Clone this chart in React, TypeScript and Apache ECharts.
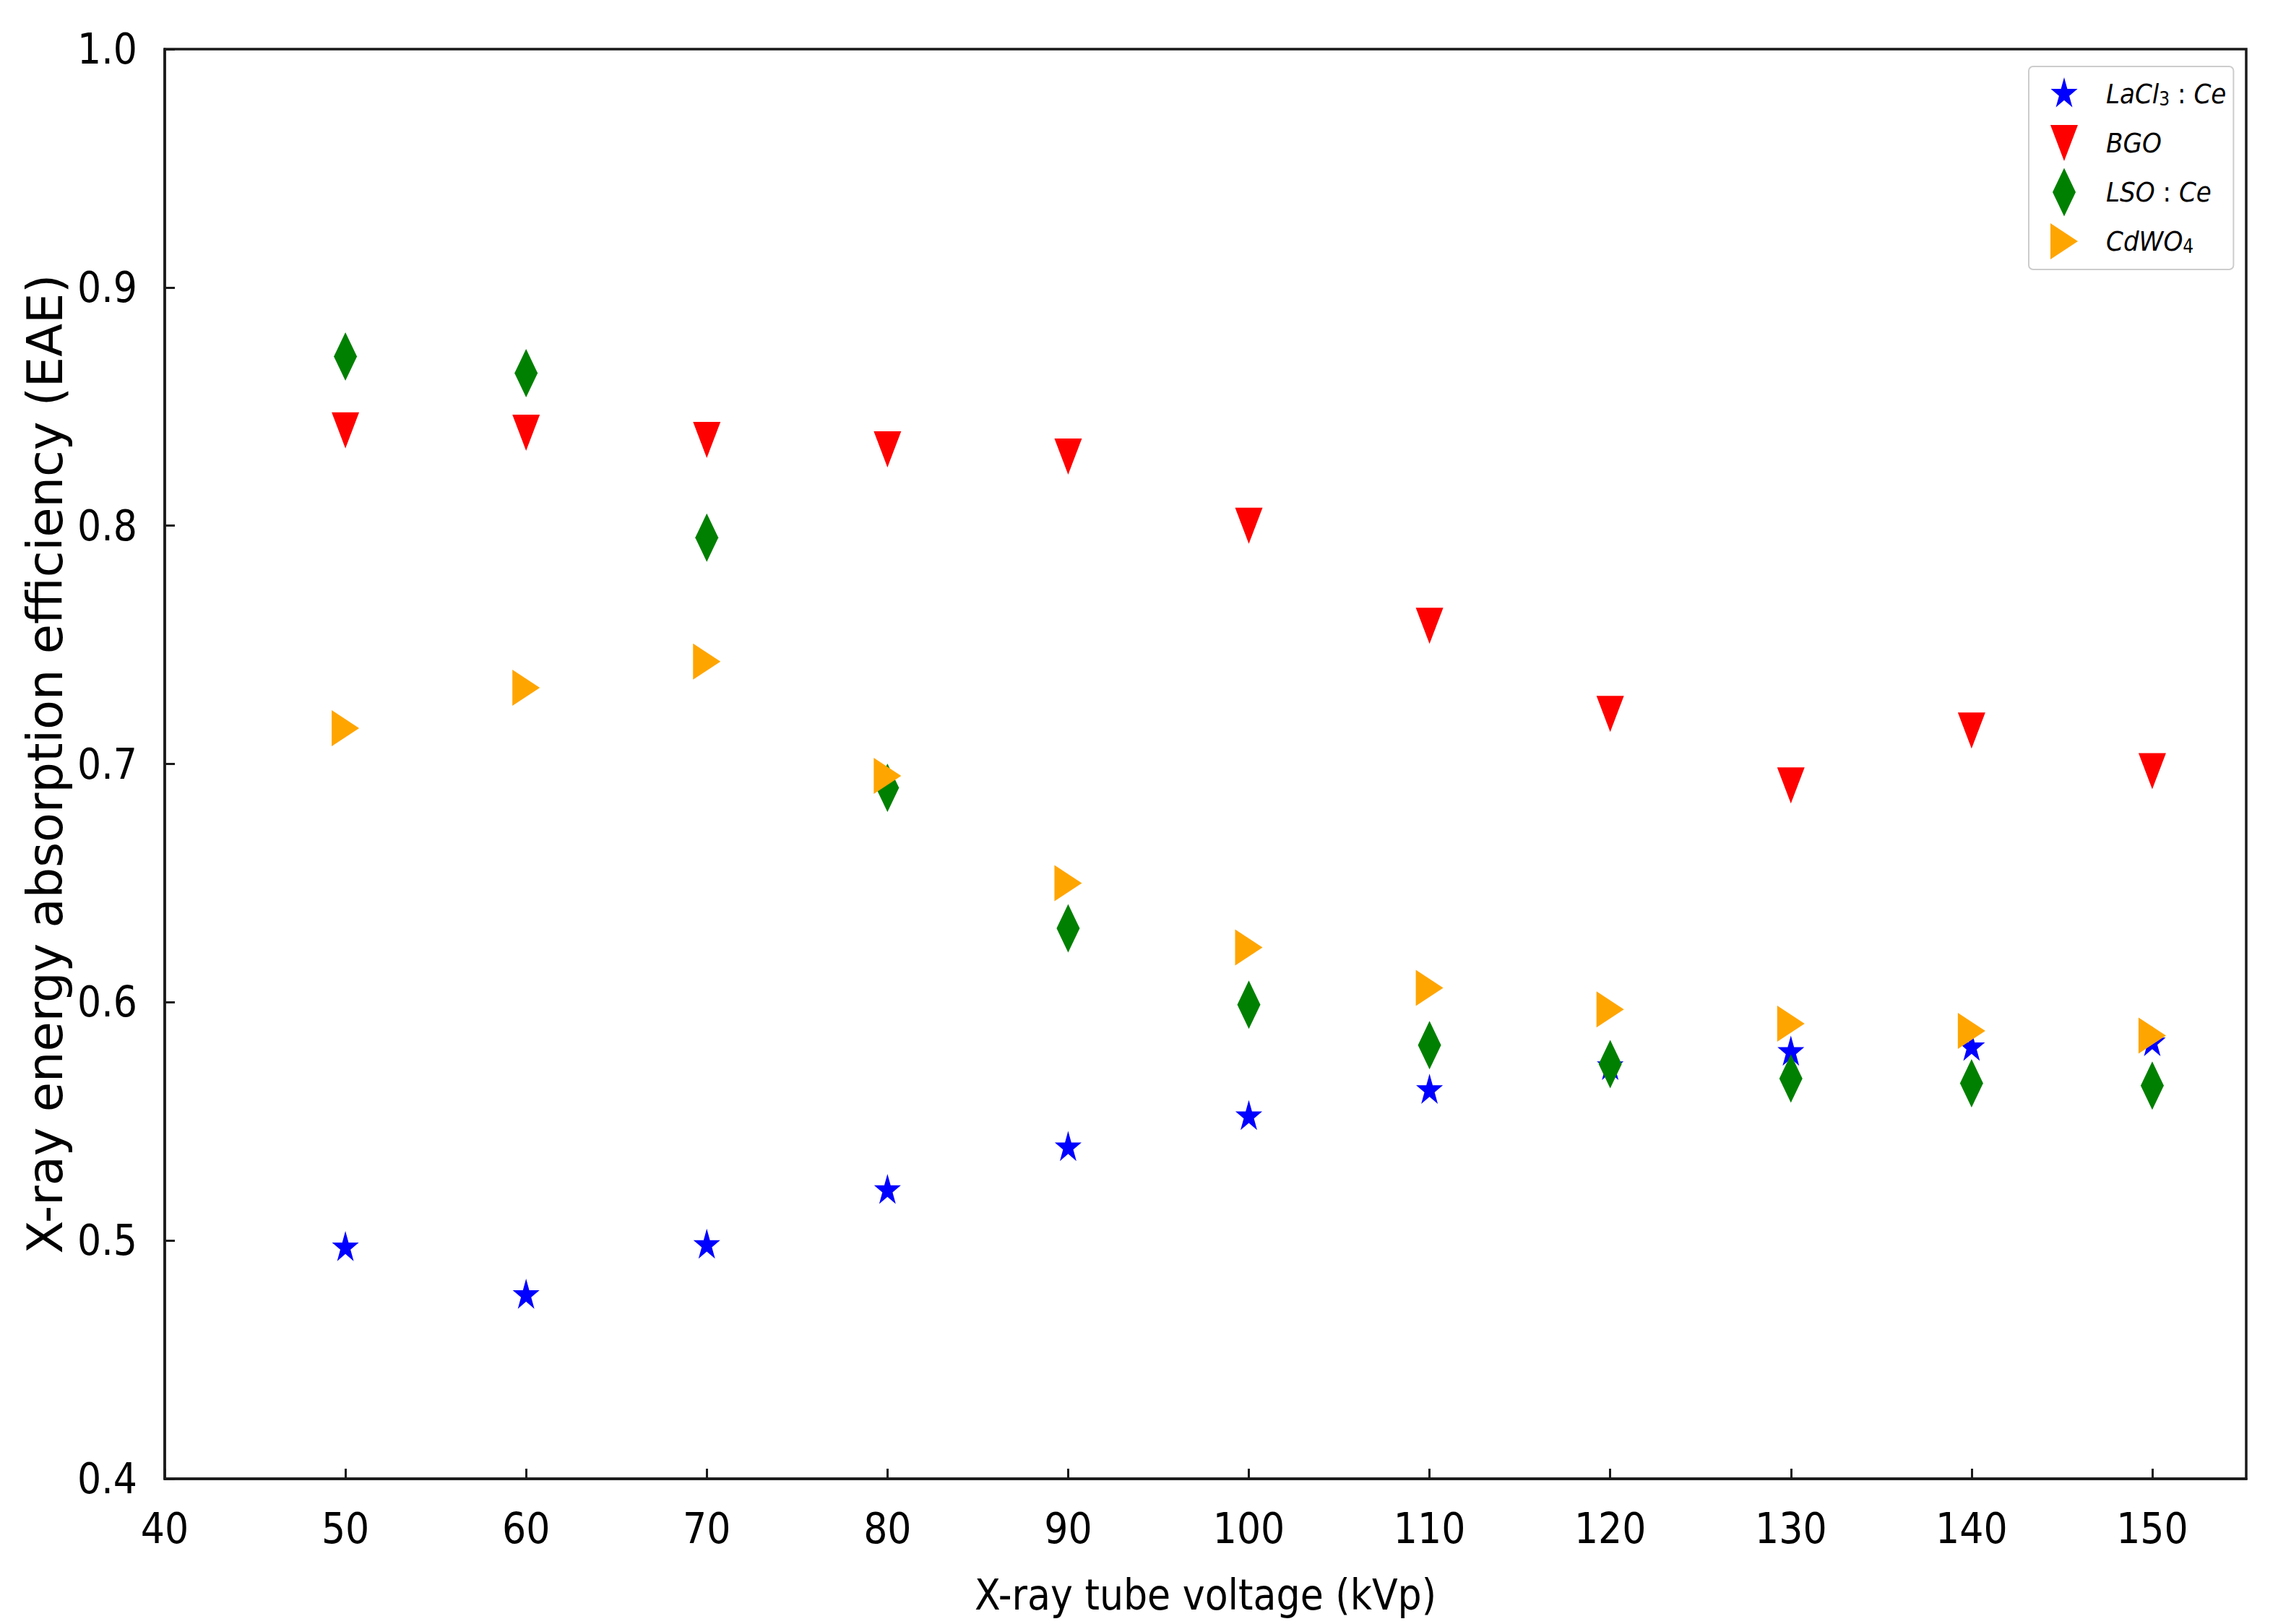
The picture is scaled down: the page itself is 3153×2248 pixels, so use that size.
import React, { useEffect, useRef } from "react";
import * as echarts from "echarts";

// ---- data ----
const voltages = [50, 60, 70, 80, 90, 100, 110, 120, 130, 140, 150];
const lacl3Ce = [0.497, 0.477, 0.498, 0.521, 0.539, 0.552, 0.563, 0.573, 0.579, 0.581, 0.583];
const bgo = [0.840, 0.839, 0.836, 0.832, 0.829, 0.800, 0.758, 0.721, 0.691, 0.714, 0.697];
const lsoCe = [0.871, 0.864, 0.795, 0.690, 0.631, 0.599, 0.582, 0.574, 0.568, 0.566, 0.565];
const cdwo4 = [0.715, 0.732, 0.743, 0.695, 0.650, 0.623, 0.606, 0.597, 0.591, 0.588, 0.586];
const seriesNames = ["LaCl3:Ce", "BGO", "LSO:Ce", "CdWO4"];
const yTicks = [0.4, 0.5, 0.6, 0.7, 0.8, 0.9, 1.0];

// ---- symbols drawn inside a common 40 x 68 frame ----
const FRAME = "M0 0 M40 68 ";
function starPath(): string {
  const cx = 20, cy = 34, sx = 19.5, sy = 23;
  const pts: string[] = [];
  for (let k = 0; k < 10; k++) {
    const a = (k * 36 * Math.PI) / 180;
    const r = k % 2 === 0 ? 1 : 0.382;
    pts.push(`${(cx + Math.sin(a) * r * sx).toFixed(2)} ${(cy - Math.cos(a) * r * sy).toFixed(2)}`);
  }
  return "path://" + FRAME + "M" + pts.join(" L") + " Z";
}
const SYM_STAR = starPath();
const SYM_DOWN = "path://" + FRAME + "M1 9 L39 9 L20 59 Z";
const SYM_DIAMOND = "path://" + FRAME + "M20 0.5 L36 34 L20 67.5 L4 34 Z";
const SYM_RIGHT = "path://" + FRAME + "M1 9 L39 34 L1 59 Z";

const FONT = "'DejaVu Sans Condensed', 'DejaVu Sans', sans-serif";
const AX = "#1a1a1a";

function pairs(ys: number[]) {
  return voltages.map((x, i) => [x, ys[i]]);
}

export default function App() {
  const ref = useRef<HTMLDivElement>(null);
  useEffect(() => {
    if (!ref.current) return;
    const chart = echarts.init(ref.current, null, { renderer: "svg" });
    const mk = (name: string, data: number[], symbol: string, color: string) => ({
      name,
      type: "scatter",
      data: pairs(data),
      symbol,
      symbolSize: [40, 68],
      itemStyle: { color, opacity: 1 },
      emphasis: { disabled: true },
    });
    const legendLabel: Record<string, string> = {
      "LaCl3:Ce": "{pad|}{i|LaCl}{s|3}{u| : }{i|Ce}",
      BGO: "{pad|}{i|BGO}",
      "LSO:Ce": "{pad|}{i|LSO}{u| : }{i|Ce}",
      CdWO4: "{pad|}{i|CdWO}{s|4}",
    };
    chart.setOption({
      animation: false,
      backgroundColor: "#ffffff",
      grid: {
        show: true,
        left: 228,
        top: 68,
        right: 44,
        bottom: 201,
        borderColor: AX,
        borderWidth: 3.5,
        backgroundColor: "#ffffff",
      },
      legend: {
        show: true,
        data: seriesNames,
        orient: "vertical",
        left: 2808,
        top: 92,
        itemWidth: 40,
        itemHeight: 68,
        itemGap: 0,
        symbolRotate: 0,
        symbolKeepAspect: true,
        padding: [4, 10, 5, 29],
        borderColor: "#cccccc",
        borderWidth: 2,
        borderRadius: 6,
        backgroundColor: "#ffffff",
        selectedMode: false,
        formatter: (name: string) => legendLabel[name] || name,
        textStyle: {
          fontSize: 38,
          fontFamily: FONT,
          color: "#000",
          rich: {
            pad: { width: 33 },
            i: { fontSize: 38, fontStyle: "italic", fontFamily: FONT, color: "#000" },
            u: { fontSize: 38, fontFamily: FONT, color: "#000" },
            s: { fontSize: 26, fontFamily: FONT, color: "#000", verticalAlign: "bottom", padding: [14, 0, 0, 0] },
          },
        },
      },
      xAxis: {
        type: "value",
        min: 40,
        max: 155.2,
        interval: 10,
        name: "X-ray tube voltage (kVp)",
        nameLocation: "middle",
        nameGap: 132,
        nameTextStyle: { fontSize: 58, fontFamily: FONT, color: "#000" },
        axisLine: { show: true, onZero: false, lineStyle: { color: AX, width: 3.5 } },
        axisTick: { show: true, inside: true, length: 14, lineStyle: { color: AX, width: 3 } },
        axisLabel: {
          showMaxLabel: false,
          margin: 40,
          fontSize: 58,
          fontFamily: FONT,
          color: "#000",
        },
        splitLine: { show: false },
      },
      yAxis: {
        type: "value",
        min: yTicks[0],
        max: yTicks[yTicks.length - 1],
        interval: 0.1,
        name: "X-ray energy absorption efficiency (EAE)",
        nameLocation: "middle",
        nameGap: 124,
        nameTextStyle: { fontSize: 67, fontFamily: "'DejaVu Sans', sans-serif", color: "#000" },
        axisLine: { show: true, onZero: false, lineStyle: { color: AX, width: 3.5 } },
        axisTick: { show: true, inside: true, length: 14, lineStyle: { color: AX, width: 3 } },
        axisLabel: {
          margin: 38,
          fontSize: 58,
          fontFamily: FONT,
          color: "#000",
          formatter: (v: number) => v.toFixed(1),
        },
        splitLine: { show: false },
      },
      series: [
        mk(seriesNames[0], lacl3Ce, SYM_STAR, "#0000ff"),
        mk(seriesNames[1], bgo, SYM_DOWN, "#ff0000"),
        mk(seriesNames[2], lsoCe, SYM_DIAMOND, "#008000"),
        mk(seriesNames[3], cdwo4, SYM_RIGHT, "#ffa500"),
      ],
    });
    return () => chart.dispose();
  }, []);
  return (
    <div
      ref={ref}
      style={{ position: "fixed", left: 0, top: 0, width: 3153, height: 2248, background: "#fff" }}
    />
  );
}
